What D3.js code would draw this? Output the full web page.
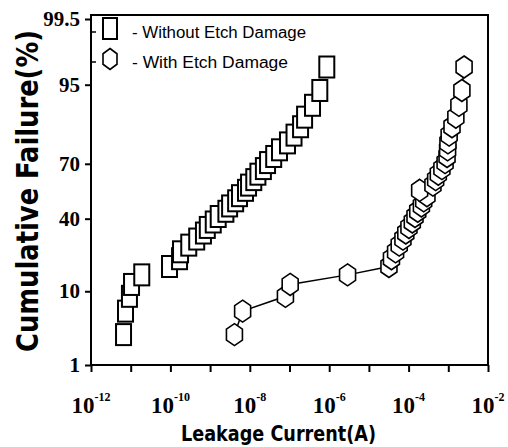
<!DOCTYPE html>
<html>
<head>
	<meta charset="utf-8">
	<script src="https://cdnjs.cloudflare.com/ajax/libs/d3/7.8.5/d3.min.js"></script>
	<style>
		body {
			margin: 0;
			background: #fff;
		}
		svg {
			display: block;
		}
		.tick-y text {
			font-family: "Liberation Serif", "DejaVu Serif", serif;
			font-weight: bold;
			font-size: 21px;
		}
	</style>
</head>
<body>
	<svg width="508" height="447" id="chart"></svg>

	<script>
	//cumulative failure (%) of each ranked device, same ranks for both groups
	var failurePct = [2.9, 5.9, 8.8, 11.8, 14.7, 17.6, 20.6, 23.5, 26.5, 29.4, 32.4, 35.3, 38.2, 41.2, 44.1, 47.1, 50.0,
		52.9, 55.9, 58.8, 61.8, 64.7, 67.6, 70.6, 73.5, 76.5, 79.4, 82.4, 85.3, 88.2, 91.2, 94.1, 97.1];

	//leakage current (A) without etch damage
	var withoutEtch = [6.6e-12, 7.4e-12, 9.3e-12, 1.05e-11, 1.9e-11, 9.5e-11, 1.7e-10, 1.8e-10, 2.9e-10, 4.6e-10, 6.8e-10,
		8.5e-10, 1.2e-9, 1.6e-9, 2.5e-9, 3.1e-9, 4.4e-9, 5.5e-9, 7.8e-9, 9.3e-9, 1.26e-8, 1.6e-8, 2.2e-8, 2.8e-8,
		4.0e-8, 5.6e-8, 8.9e-8, 1.3e-7, 1.9e-7, 2.4e-7, 3.8e-7, 5.8e-7, 8.7e-7];

	//leakage current (A) with etch damage
	var withEtch = [4.1e-9, 6.6e-9, 7.9e-8, 1.04e-7, 2.9e-6, 3.2e-5, 3.7e-5, 4.7e-5, 5.8e-5, 7.2e-5, 8.5e-5,
		1.02e-4, 1.24e-4, 1.45e-4, 1.7e-4, 2.1e-4, 2.4e-4, 2.9e-4, 1.9e-4, 4.1e-4, 4.8e-4, 5.6e-4, 6.9e-4, 8.3e-4,
		9.3e-4, 9.6e-4, 9.8e-4, 1.05e-3, 1.24e-3, 1.55e-3, 1.85e-3, 2.2e-3, 2.5e-3];

	//tick values
	var yTicks = [1, 10, 40, 70, 95, 99.5];
	var xTicks = [1e-12, 1e-11, 1e-10, 1e-9, 1e-8, 1e-7, 1e-6, 1e-5, 1e-4, 1e-3, 1e-2];
	var xLabelExp = [-12, -10, -8, -6, -4, -2];

	var legendNames = ["Without Etch Damage", "With Etch Damage"];

	//inverse normal cdf (Acklam) for the probability axis
	function probit(p) {
		var a = [-3.969683028665376e+01, 2.209460984245205e+02, -2.759285104469687e+02, 1.383577518672690e+02, -3.066479806614716e+01, 2.506628277459239e+00],
			b = [-5.447609879822406e+01, 1.615858368580409e+02, -1.556989798598866e+02, 6.680131188771972e+01, -1.328068155288572e+01],
			c = [-7.784894002430293e-03, -3.223964580411365e-01, -2.400758277161838e+00, -2.549732539343734e+00, 4.374664141464968e+00, 2.938163982698783e+00],
			d = [7.784695709041462e-03, 3.224671290700398e-01, 2.445134137142996e+00, 3.754408661907416e+00],
			pl = 0.02425, q, r;
		if (p < pl) {
			q = Math.sqrt(-2 * Math.log(p));
			return (((((c[0]*q+c[1])*q+c[2])*q+c[3])*q+c[4])*q+c[5]) / ((((d[0]*q+d[1])*q+d[2])*q+d[3])*q+1);
		}
		if (p > 1 - pl) {
			q = Math.sqrt(-2 * Math.log(1 - p));
			return -(((((c[0]*q+c[1])*q+c[2])*q+c[3])*q+c[4])*q+c[5]) / ((((d[0]*q+d[1])*q+d[2])*q+d[3])*q+1);
		}
		q = p - 0.5;
		r = q * q;
		return (((((a[0]*r+a[1])*r+a[2])*r+a[3])*r+a[4])*r+a[5])*q / (((((b[0]*r+b[1])*r+b[2])*r+b[3])*r+b[4])*r+1);
	}

	//define chart margins
	var svg = d3.select("svg"),
		margin = {top: 15, right: 20, bottom: 82, left: 91},
		width = svg.attr("width") - margin.left - margin.right,
		height = svg.attr("height") - margin.top - margin.bottom;

	//define scales
	let x = d3.scaleLog().domain([1e-12, 1e-2]).range([0, width]),
		yz = d3.scaleLinear().domain([probit(0.01), probit(0.995)]).range([height, 4]);

	function y(pct) { return yz(probit(pct / 100)); }

	let g = svg.append("g").attr("transform", "translate(" + margin.left + "," + margin.top + ")");

	//x axis ticks
	let xAxis = g.append("g")
		.attr("transform", "translate(0," + height + ")")
		.call(d3.axisBottom(x).tickValues(xTicks).tickSize(7).tickSizeOuter(0).tickFormat(""));
	xAxis.select(".domain").remove();
	xAxis.selectAll("line").attr("stroke-width", 2);

	//x tick labels with superscript
	let xLab = g.append("g").selectAll("text")
		.data(xLabelExp)
		.enter().append("text")
		.attr("x", function(d) { return x(Math.pow(10, d)); })
		.attr("y", height + 48)
		.attr("text-anchor", "middle")
		.style("font-family", "'Liberation Serif', 'DejaVu Serif', serif")
		.style("font-weight", "bold");
	xLab.append("tspan").style("font-size", "23px").text("10");
	xLab.append("tspan").style("font-size", "12px").attr("dy", -12).text(function(d) { return d; });

	//y axis
	let yAxis = g.append("g")
		.attr("class", "tick-y")
		.call(d3.axisLeft(yz)
			.tickValues(yTicks.map(function(p) { return probit(p / 100); }))
			.tickSize(6).tickSizeOuter(0).tickPadding(5)
			.tickFormat(function(d, i) { return yTicks[i]; }));
	yAxis.select(".domain").remove();
	yAxis.selectAll("line").attr("stroke-width", 2);

	//frame
	g.append("rect")
		.attr("width", width)
		.attr("height", height)
		.attr("fill", "none")
		.attr("stroke", "#000")
		.attr("stroke-width", 2);

	//hexagon symbol
	function hexPath(w, h) {
		return "M0," + (-h/2) + "L" + (w/2) + "," + (-h/4) + "L" + (w/2) + "," + (h/4) + "L0," + (h/2) +
			"L" + (-w/2) + "," + (h/4) + "L" + (-w/2) + "," + (-h/4) + "Z";
	}

	//without etch damage: squares
	g.append("g").selectAll("rect")
		.data(withoutEtch)
		.enter().append("rect")
		.attr("x", function(d) { return x(d) - 7.5; })
		.attr("y", function(d, i) { return y(failurePct[i]) - 10.5; })
		.attr("width", 15)
		.attr("height", 21)
		.attr("fill", "#fff")
		.attr("stroke", "#000")
		.attr("stroke-width", 2);

	//with etch damage: line + hexagons
	let line = d3.line()
		.x(function(d) { return x(d); })
		.y(function(d, i) { return y(failurePct[i]); });

	g.append("path")
		.datum(withEtch)
		.attr("fill", "none")
		.attr("stroke", "#000")
		.attr("stroke-width", 1.5)
		.attr("d", line);

	g.append("g").selectAll("path")
		.data(withEtch)
		.enter().append("path")
		.attr("transform", function(d, i) { return "translate(" + x(d) + "," + y(failurePct[i]) + ")"; })
		.attr("d", hexPath(16, 22))
		.attr("fill", "#fff")
		.attr("stroke", "#000")
		.attr("stroke-width", 1.6);

	//legend
	let legend = g.append("g");
	legend.selectAll("line")
		.data(legendNames)
		.enter().append("line")
		.attr("x1", 0).attr("x2", 5)
		.attr("y1", function(d, i) { return 17 + i * 30; })
		.attr("y2", function(d, i) { return 17 + i * 30; })
		.attr("stroke", "#000")
		.attr("stroke-width", 1.5);
	legend.append("rect")
		.attr("x", 12).attr("y", 3)
		.attr("width", 14).attr("height", 21)
		.attr("fill", "#fff").attr("stroke", "#000").attr("stroke-width", 2);
	legend.append("path")
		.attr("transform", "translate(19,44)")
		.attr("d", hexPath(14, 21))
		.attr("fill", "#fff").attr("stroke", "#000").attr("stroke-width", 1.6);
	legend.selectAll("text")
		.data(legendNames)
		.enter().append("text")
		.attr("x", 41)
		.attr("y", function(d, i) { return 23 + i * 30; })
		.attr("textLength", function(d, i) { return i == 0 ? 174 : 156; })
		.attr("lengthAdjust", "spacingAndGlyphs")
		.style("font", "16px 'Liberation Sans', sans-serif")
		.text(function(d) { return "- " + d; });

	//axis titles
	svg.append("text")
		.attr("x", 181)
		.attr("y", 441)
		.attr("textLength", 195)
		.attr("lengthAdjust", "spacingAndGlyphs")
		.style("font", "bold 22px 'Liberation Sans Narrow', 'DejaVu Sans Condensed', sans-serif")
		.text("Leakage Current(A)");

	svg.append("text")
		.attr("transform", "translate(38,191) rotate(-90)")
		.attr("text-anchor", "middle")
		.attr("textLength", 322)
		.attr("lengthAdjust", "spacingAndGlyphs")
		.style("font", "bold 31px 'Liberation Sans Narrow', 'DejaVu Sans Condensed', sans-serif")
		.text("Cumulative Failure(%)");
	</script>
</body>
</html>
